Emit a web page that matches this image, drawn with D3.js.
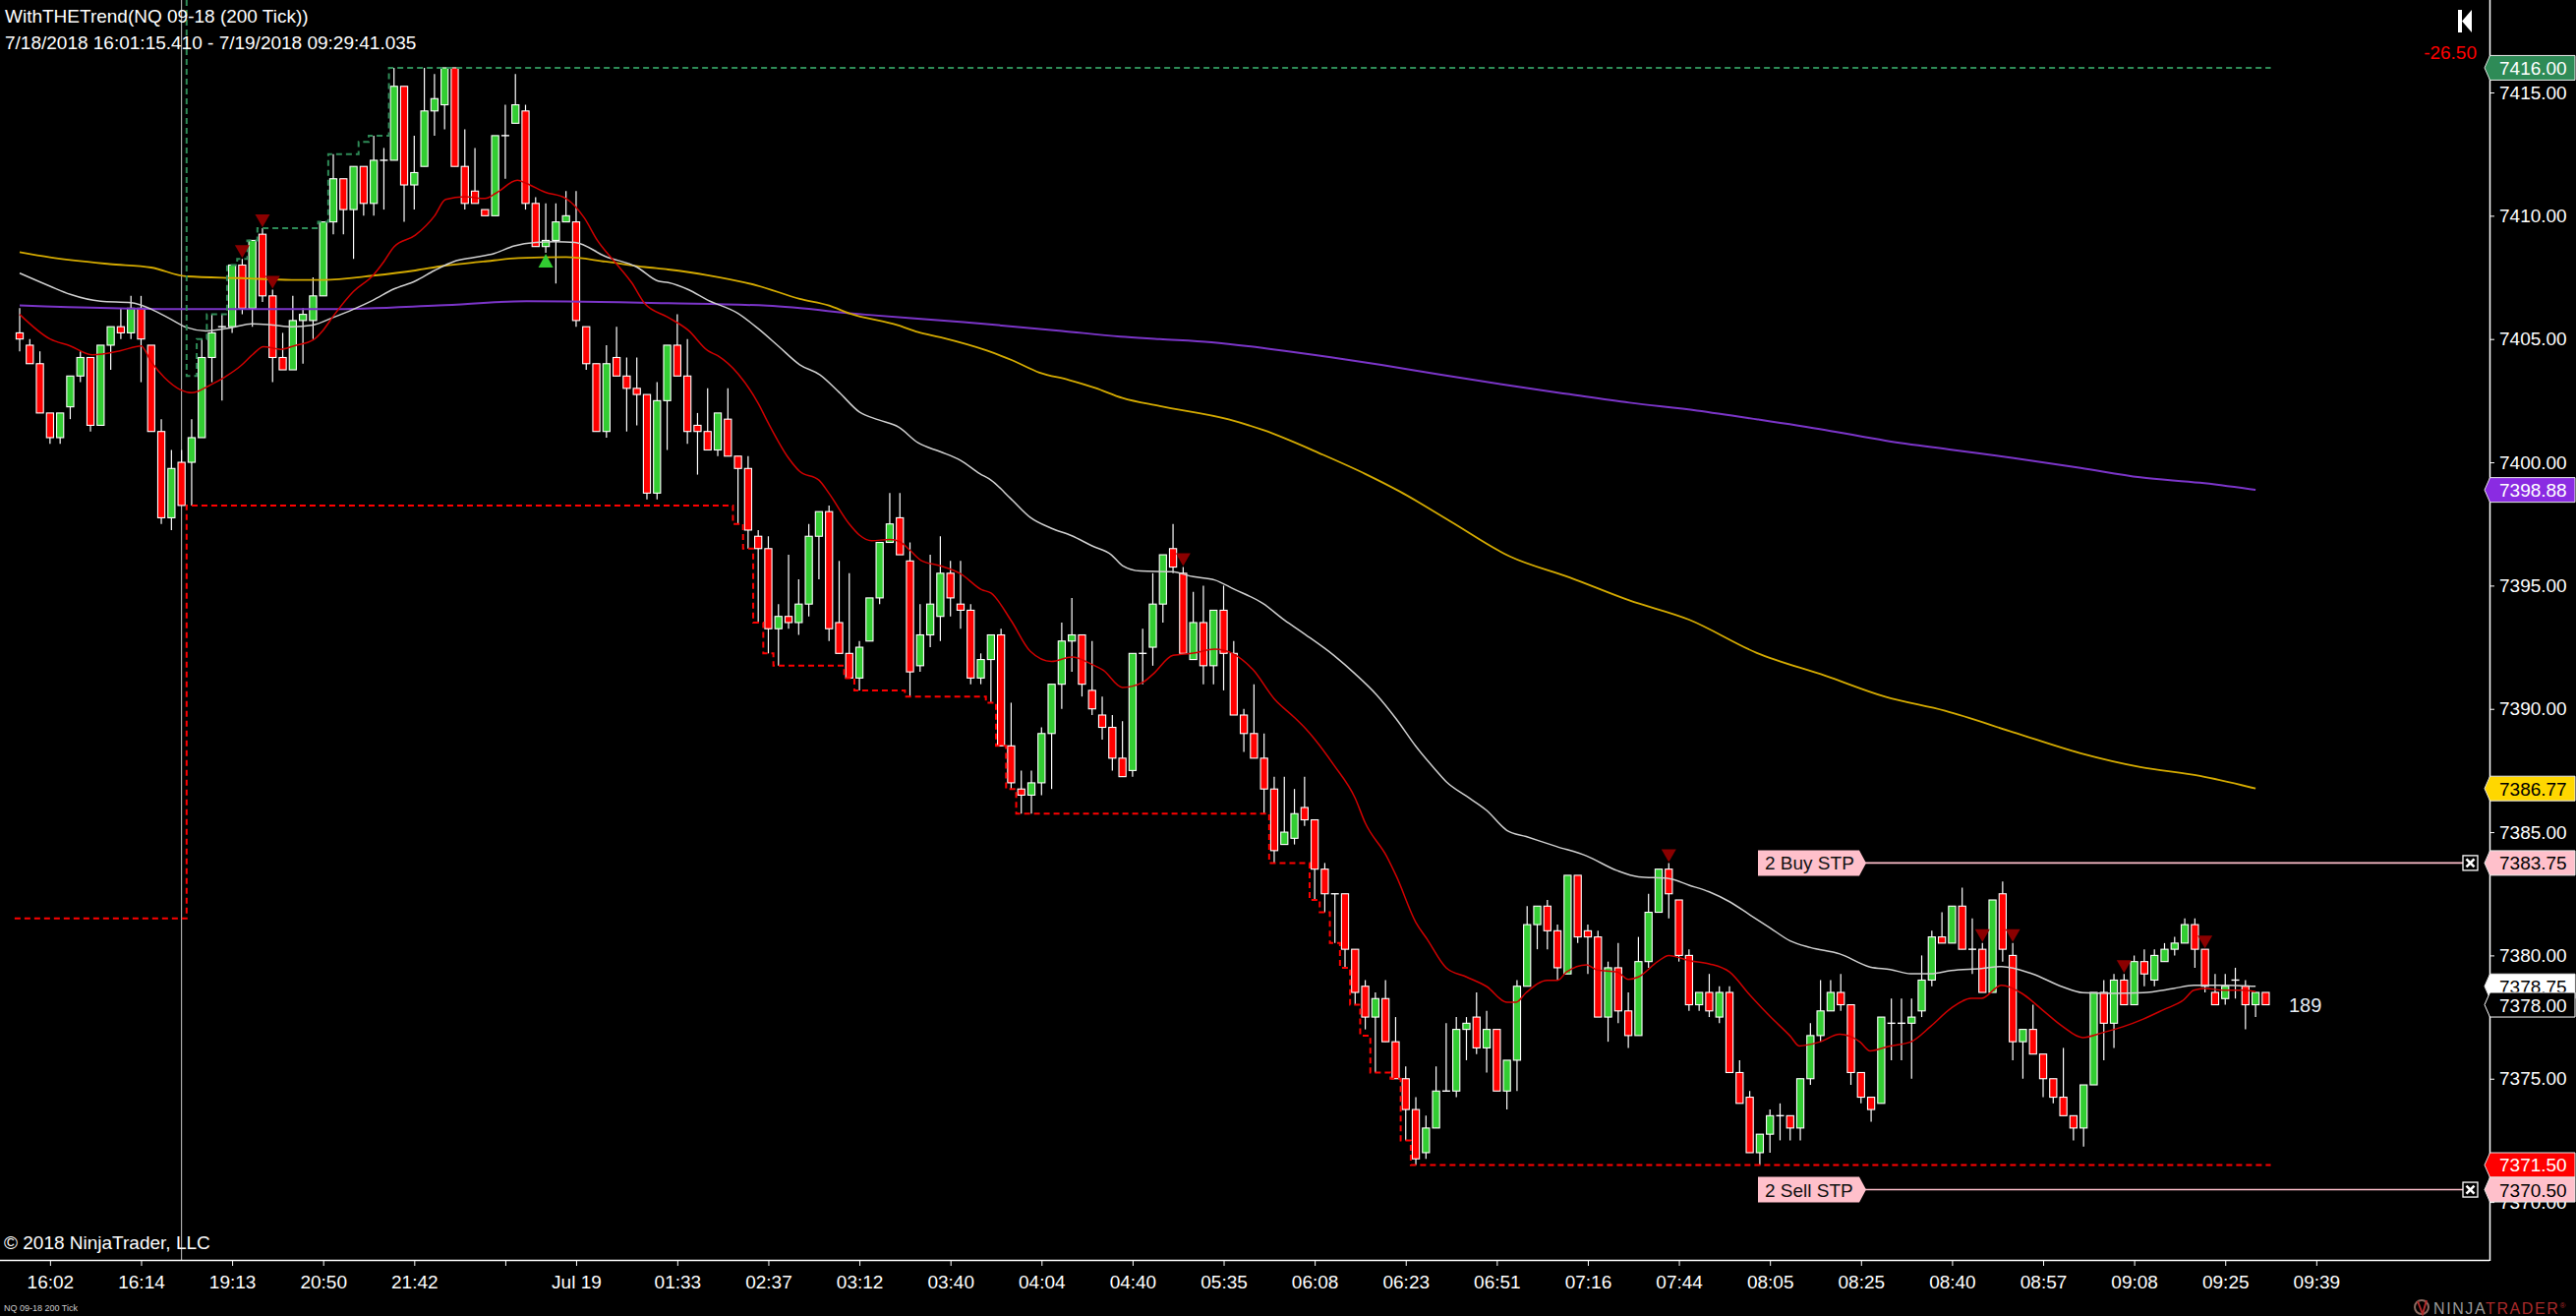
<!DOCTYPE html>
<html>
<head>
<meta charset="utf-8">
<script src="https://cdn.jsdelivr.net/npm/d3@7"></script>
<style>
body { margin: 0; background: #000; }
svg { display: block; }
</style>
</head>
<body>
<svg id="chart" width="2620" height="1338"></svg>
<script>
// ---- chart data (bar index 0..222, 200 tick bars) ----
const opens = [
7405.25,7404.75,7404.0,7402.0,7401.0,7402.25,7403.5,7404.25,7401.5,7404.75,
7405.5,7405.25,7406.25,7404.75,7401.25,7397.75,7400.0,7400.0,7401.0,7404.25,
7405.5,7405.5,7408.0,7406.25,7409.25,7406.75,7404.25,7403.75,7405.75,7405.75,
7406.75,7409.75,7411.5,7410.25,7412.0,7410.5,7412.25,7412.25,7415.25,7411.25,
7412.0,7414.25,7414.5,7416.0,7412.0,7411.0,7410.25,7410.0,7413.25,7413.75,
7414.25,7410.5,7408.75,7409.0,7409.75,7409.75,7405.5,7404.0,7401.25,7404.25,
7403.5,7403.0,7402.75,7398.75,7402.5,7404.75,7403.5,7401.5,7401.25,7400.5,
7401.75,7400.25,7399.75,7397.0,7396.5,7393.25,7393.75,7393.5,7394.25,7397.0,
7398.0,7393.5,7392.25,7391.25,7392.75,7394.5,7396.75,7397.75,7396.0,7391.75,
7393.0,7393.75,7395.5,7394.25,7394.0,7391.25,7392.0,7393.0,7388.5,7386.75,
7386.5,7387.0,7389.0,7391.0,7392.75,7393.0,7390.75,7389.75,7389.25,7388.0,
7387.5,7392.25,7392.5,7394.25,7396.5,7395.5,7392.0,7393.5,7391.75,7394.0,
7392.25,7389.75,7389.0,7388.0,7386.75,7384.5,7384.75,7386.0,7385.5,7383.5,
7382.5,7382.5,7380.25,7378.75,7377.5,7378.25,7376.5,7375.0,7373.75,7372.0,
7373.0,7374.5,7374.5,7377.0,7377.5,7376.25,7377.0,7374.5,7375.75,7378.75,
7381.25,7382.0,7381.0,7379.25,7383.25,7381.0,7380.75,7377.5,7379.5,7377.75,
7376.75,7379.75,7381.75,7383.5,7382.25,7380.0,7378.0,7378.5,7377.5,7378.5,
7375.25,7374.25,7372.0,7372.75,7373.5,7373.5,7373.0,7375.0,7376.75,7377.75,
7378.5,7378.0,7375.25,7374.25,7374.0,7377.25,7377.25,7377.25,7377.75,7379.0,
7380.75,7380.5,7382.0,7380.25,7380.25,7378.5,7382.5,7380.0,7376.5,7377.0,
7376.0,7375.0,7374.25,7373.5,7373.0,7374.75,7378.5,7377.25,7379.0,7378.0,
7379.75,7379.0,7379.75,7380.25,7380.5,7381.25,7380.25,7378.5,7378.25,7379.0,
7378.75,7378.0,7378.5
];
const highs = [
7406.25,7405.0,7404.5,7402.0,7402.0,7403.5,7404.5,7404.25,7404.75,7405.5,
7406.25,7406.75,7406.75,7404.75,7401.75,7400.5,7400.5,7401.75,7405.0,7406.0,
7406.0,7408.0,7408.25,7409.0,7409.5,7407.0,7405.25,7406.75,7406.25,7407.5,
7409.75,7412.5,7411.5,7412.0,7412.0,7413.25,7412.75,7416.0,7415.25,7413.25,
7416.0,7415.75,7416.0,7416.0,7413.5,7412.75,7410.25,7413.25,7414.5,7415.75,
7414.5,7410.75,7410.5,7410.5,7411.0,7411.0,7405.5,7404.0,7404.75,7405.5,
7404.25,7404.25,7402.75,7403.25,7404.75,7406.0,7405.0,7402.0,7403.0,7402.0,
7403.0,7400.25,7400.25,7397.25,7397.0,7394.25,7396.25,7395.25,7397.5,7398.0,
7398.25,7396.0,7395.5,7392.75,7394.5,7396.75,7398.75,7398.75,7396.75,7394.25,
7396.25,7397.0,7396.0,7396.0,7394.25,7392.25,7393.0,7393.25,7390.25,7387.5,
7387.5,7389.25,7391.0,7393.5,7394.5,7393.0,7392.75,7390.5,7389.75,7389.5,
7392.25,7393.25,7395.5,7396.25,7397.5,7395.75,7394.75,7395.0,7394.0,7395.0,
7392.75,7390.0,7391.0,7389.0,7387.25,7387.25,7386.75,7387.25,7385.5,7383.75,
7382.5,7382.5,7380.25,7379.0,7378.5,7379.0,7377.5,7375.5,7374.25,7373.5,
7375.5,7377.25,7377.5,7377.5,7378.5,7377.75,7377.0,7375.75,7379.0,7382.0,
7382.0,7382.25,7381.25,7383.25,7383.25,7381.25,7381.0,7379.75,7380.5,7378.5,
7380.75,7382.5,7383.5,7383.75,7382.25,7380.25,7378.5,7379.25,7378.75,7378.75,
7375.75,7374.5,7372.75,7373.75,7374.0,7373.5,7375.0,7377.25,7379.0,7379.0,
7379.25,7378.0,7375.25,7374.25,7377.5,7378.25,7378.25,7378.25,7380.0,7381.0,
7381.75,7382.0,7382.75,7381.5,7380.5,7382.25,7383.0,7380.5,7377.0,7378.0,
7376.0,7375.0,7376.25,7373.5,7374.75,7378.5,7379.0,7379.25,7379.25,7380.0,
7380.25,7380.25,7380.5,7380.75,7381.5,7381.5,7380.25,7379.25,7379.25,7379.5,
7379.0,7378.5,7378.5
];
const lows = [
7404.5,7404.0,7402.0,7400.75,7400.75,7401.75,7403.25,7401.25,7401.5,7403.75,
7405.0,7405.0,7403.25,7401.25,7397.5,7397.25,7398.25,7398.25,7401.0,7403.25,
7402.5,7405.25,7406.0,7405.5,7406.5,7403.25,7403.75,7403.75,7404.0,7405.0,
7406.75,7409.25,7409.25,7408.25,7410.0,7410.0,7410.25,7412.25,7409.75,7410.25,
7412.0,7413.25,7413.5,7412.0,7410.25,7410.5,7410.0,7410.0,7411.5,7413.75,
7410.25,7408.75,7408.5,7407.25,7409.75,7405.5,7403.75,7401.25,7401.0,7403.5,
7401.25,7401.5,7398.5,7398.5,7400.5,7403.5,7400.75,7399.5,7400.5,7400.25,
7400.25,7397.5,7396.5,7393.5,7392.25,7391.75,7393.25,7393.0,7393.75,7395.25,
7392.75,7392.25,7391.25,7390.75,7392.75,7394.25,7396.75,7396.25,7390.5,7391.5,
7392.5,7392.75,7393.75,7393.25,7391.0,7391.0,7390.25,7388.5,7386.75,7385.75,
7385.75,7386.5,7386.75,7390.0,7391.5,7390.5,7389.75,7388.75,7387.5,7387.25,
7387.25,7391.0,7391.75,7393.5,7395.5,7392.25,7392.0,7391.0,7391.0,7390.75,
7389.75,7388.25,7388.0,7385.75,7383.75,7384.5,7384.5,7385.25,7382.25,7381.75,
7380.5,7379.5,7378.0,7377.0,7375.25,7376.5,7375.0,7372.5,7371.5,7371.75,
7373.0,7374.5,7374.25,7375.75,7376.0,7375.25,7374.5,7373.75,7374.5,7378.75,
7380.25,7380.25,7379.0,7379.25,7380.5,7379.25,7377.5,7376.5,7377.25,7376.25,
7376.75,7379.5,7381.75,7381.5,7379.75,7377.75,7377.75,7377.5,7377.25,7375.25,
7374.0,7372.0,7371.5,7372.0,7372.5,7372.5,7372.5,7374.75,7376.5,7377.75,
7377.75,7374.75,7374.0,7373.25,7374.0,7375.75,7375.75,7375.0,7377.5,7378.75,
7380.5,7380.5,7380.25,7379.25,7378.5,7378.5,7379.75,7375.75,7375.0,7376.0,
7374.25,7374.0,7373.5,7372.5,7372.25,7374.75,7375.75,7376.25,7378.0,7378.0,
7378.75,7378.75,7379.75,7380.0,7380.5,7379.5,7378.5,7378.0,7378.0,7378.25,
7377.0,7377.5,7378.0
];
const closes = [
7405.0,7404.0,7402.0,7401.0,7402.0,7403.5,7404.25,7401.5,7404.75,7405.5,
7405.25,7406.25,7405.0,7401.25,7397.75,7399.75,7398.25,7401.0,7404.25,7405.25,
7405.5,7408.0,7406.25,7409.0,7406.75,7404.25,7403.75,7405.75,7406.0,7406.75,
7409.75,7411.5,7410.25,7412.0,7410.5,7412.25,7412.25,7415.25,7411.25,7411.75,
7414.25,7414.75,7416.0,7412.0,7410.5,7410.5,7410.0,7413.25,7413.25,7414.5,
7410.5,7408.75,7409.0,7409.75,7410.0,7405.75,7404.0,7401.25,7404.0,7403.5,
7403.0,7402.75,7398.75,7402.5,7404.75,7403.5,7401.25,7401.25,7400.5,7402.0,
7400.25,7399.75,7397.25,7396.5,7393.25,7393.75,7393.5,7394.25,7397.0,7398.0,
7393.25,7392.25,7391.25,7392.5,7394.5,7396.75,7397.5,7396.25,7391.5,7393.0,
7394.25,7395.5,7394.5,7394.0,7391.25,7392.0,7393.0,7388.5,7387.0,7386.5,
7387.0,7389.0,7391.0,7392.75,7393.0,7391.0,7390.0,7389.25,7388.0,7387.25,
7392.25,7392.25,7394.25,7396.25,7395.75,7392.25,7393.5,7391.75,7394.0,7392.25,
7389.75,7389.0,7388.0,7386.75,7384.25,7385.0,7385.75,7385.5,7383.5,7382.5,
7382.5,7380.25,7378.5,7377.5,7378.25,7376.5,7375.0,7373.75,7371.75,7373.0,
7374.5,7374.5,7377.0,7377.25,7376.25,7377.0,7374.5,7375.75,7378.75,7381.25,
7382.0,7381.0,7379.5,7383.25,7380.75,7380.75,7377.5,7379.5,7377.75,7376.75,
7379.75,7381.75,7383.5,7382.5,7380.0,7378.0,7378.5,7377.75,7378.5,7375.25,
7374.0,7372.0,7372.75,7373.5,7373.5,7373.0,7375.0,7376.75,7377.75,7378.5,
7378.0,7375.25,7374.25,7373.75,7377.5,7377.25,7377.25,7377.5,7379.0,7380.75,
7380.5,7382.0,7380.25,7380.25,7378.5,7382.25,7380.25,7376.5,7377.0,7376.0,
7375.0,7374.25,7373.5,7373.0,7374.75,7378.5,7377.25,7379.0,7378.0,7379.75,
7379.25,7380.0,7380.25,7380.5,7381.25,7380.25,7378.75,7378.0,7378.75,7379.0,
7378.0,7378.5,7378.0
];

// indicator plots, [bar, value] points
const fastLine = [[0,7406.0],[3,7405.0],[5,7404.72],[7.2,7404.36],[10,7404.53],[12,7404.72],[13,7404.08],[14.3,7403.44],[15.9,7402.94],[17,7402.82],[18.9,7403.15],[20.2,7403.44],[21.9,7403.93],[23,7404.36],[24.1,7404.69],[25.8,7404.58],[27.1,7404.72],[29,7404.96],[30,7405.36],[31,7405.93],[33,7406.93],[34.9,7407.57],[36,7408.14],[37,7408.74],[39.1,7409.21],[41,7409.99],[42.1,7410.66],[44,7410.77],[46,7410.7],[47.1,7410.92],[49.2,7411.44],[50.1,7411.31],[51.9,7410.96],[54,7410.7],[55.8,7409.92],[57.1,7409.0],[58.8,7408.14],[60.5,7407.28],[61.8,7406.43],[64,7405.9],[66.1,7405.35],[68,7404.53],[69,7404.32],[71,7403.59],[73,7402.39],[74,7401.59],[76,7400.17],[77.1,7399.63],[79,7399.28],[80,7398.74],[82,7397.5],[83,7397.05],[84.2,7396.82],[86,7396.87],[87,7396.78],[88,7396.43],[89.1,7396.02],[91,7395.8],[93,7395.48],[95.1,7394.83],[96,7394.7],[98,7393.58],[99.9,7392.33],[102,7391.92],[104,7392.1],[106,7391.8],[107.1,7391.57],[109,7390.87],[111,7391.07],[112,7391.4],[114,7392.17],[116,7392.26],[118.1,7392.42],[120,7392.22],[121.9,7391.59],[124,7390.41],[126,7389.65],[127.1,7389.2],[129.9,7387.72],[132,7386.38],[133,7385.37],[135.1,7384.03],[136.1,7383.19],[138,7381.34],[139.1,7380.67],[141,7379.5],[143,7379.13],[145,7378.74],[147,7378.1],[147.9,7378.1],[148.9,7378.49],[151,7378.99],[152,7378.99],[152.9,7379.33],[154.9,7379.62],[155.9,7379.41],[157.9,7379.33],[159,7379.03],[160,7379.13],[161.9,7379.75],[163,7380.0],[165,7379.79],[167,7379.66],[169,7379.33],[171,7378.4],[173,7377.53],[175,7376.73],[175.9,7376.33],[177.9,7376.49],[179.9,7376.8],[181.9,7376.49],[182.9,7376.13],[184.9,7376.33],[186.9,7376.49],[188.9,7377.13],[190.9,7377.86],[192.9,7378.26],[193.9,7378.26],[195.9,7378.79],[197.9,7378.46],[199.9,7377.8],[201.9,7377.13],[203.9,7376.67],[205.9,7376.87],[207.9,7377.11],[209.9,7377.42],[211.9,7377.8],[213.9,7378.2],[214.9,7378.59],[216,7378.66],[217.9,7378.59],[219.9,7378.59],[221,7378.53]];
const midLine = [[0,7407.67],[3,7407.14],[5,7406.81],[8,7406.53],[11,7406.47],[13,7406.21],[15,7405.79],[16.5,7405.47],[18.4,7405.33],[21,7405.47],[23,7405.62],[25,7405.57],[26.9,7405.5],[29,7405.57],[30.9,7405.86],[33,7406.21],[34.9,7406.57],[37,7407.03],[39.1,7407.35],[41,7407.78],[42.9,7408.14],[44.9,7408.31],[46.9,7408.47],[48.9,7408.78],[51,7408.92],[52.9,7408.95],[54.9,7408.92],[57.9,7408.35],[61,7407.92],[63.1,7407.35],[64.1,7407.29],[66.1,7407.0],[68,7406.58],[71,7406.04],[73,7405.42],[75,7404.71],[77.1,7403.96],[79.1,7403.55],[81,7402.84],[83,7402.04],[84.9,7401.72],[86.9,7401.42],[88.8,7400.79],[91,7400.43],[93,7400.08],[94.9,7399.54],[96,7399.28],[98,7398.51],[99.9,7397.76],[102,7397.32],[104,7397.02],[106,7396.61],[107.9,7396.25],[109,7395.81],[110.8,7395.59],[113.9,7395.56],[116,7395.36],[118.1,7395.23],[120,7394.86],[122.9,7394.27],[125,7393.6],[127.1,7393.01],[129.9,7392.17],[132,7391.42],[134.1,7390.58],[136.1,7389.57],[138,7388.48],[139.9,7387.55],[141,7387.05],[143,7386.46],[145,7385.88],[147,7385.07],[148.9,7384.82],[151.9,7384.42],[154.9,7384.03],[157.9,7383.44],[160,7383.19],[163,7383.12],[165,7382.85],[167,7382.58],[169,7382.18],[171,7381.65],[173,7381.12],[175,7380.59],[177,7380.32],[179.9,7380.06],[182.9,7379.53],[184.9,7379.43],[186.9,7379.26],[188.9,7379.26],[190.9,7379.39],[193.9,7379.47],[195.9,7379.55],[198.9,7379.26],[201.9,7378.73],[203.9,7378.49],[206.9,7378.46],[209.9,7378.49],[212.9,7378.66],[214.9,7378.79],[217.9,7378.79],[221,7378.75]];
const goldLine = [[0,7408.52],[3,7408.31],[8.9,7408.04],[13,7407.9],[16.5,7407.54],[21.9,7407.47],[26.9,7407.4],[30,7407.4],[34.9,7407.57],[39.1,7407.78],[41.9,7407.97],[45.8,7408.14],[49.3,7408.28],[54,7408.32],[57.9,7408.14],[61.8,7407.92],[64.1,7407.82],[68,7407.59],[72.9,7407.17],[77.1,7406.63],[80,7406.36],[82,7406.04],[86.8,7405.56],[88.8,7405.28],[91,7405.07],[95.6,7404.53],[98.1,7404.14],[100.8,7403.64],[103.7,7403.34],[106.3,7403.02],[109,7402.61],[112.7,7402.28],[119.5,7401.74],[122.9,7401.31],[128.8,7400.31],[133,7399.53],[136.4,7398.82],[141.4,7397.61],[147.3,7396.18],[153.2,7395.33],[159.1,7394.4],[165,7393.62],[171.7,7392.27],[178.5,7391.34],[184.4,7390.49],[190.3,7389.92],[197,7389.06],[203.7,7388.2],[209.6,7387.64],[215.5,7387.28],[221,7386.77]];
const purpleLine = [[0,7406.36],[15.4,7406.21],[30.6,7406.21],[41.4,7406.36],[50.1,7406.53],[64.1,7406.45],[73.9,7406.35],[83.6,7405.99],[93.3,7405.69],[103,7405.33],[108.8,7405.1],[112.7,7405.0],[117.8,7404.87],[123.7,7404.59],[129.6,7404.26],[134.6,7403.95],[140.5,7403.55],[146.5,7403.16],[153.2,7402.76],[159.1,7402.42],[165.8,7402.1],[171.8,7401.74],[178.5,7401.31],[184.4,7400.88],[191.1,7400.5],[197.1,7400.17],[203.7,7399.77],[209.6,7399.39],[215.5,7399.17],[221,7398.88]];

// trailing high / low steps, [bar boundary, level]
const highSteps = [[16.5,7418.75],[16.5,7403.5],[17.5,7405.0],[18.5,7406.0],[20.5,7408.0],[21.5,7408.25],[22.5,7409.0],[23.5,7409.5],[29.5,7409.75],[30.5,7412.5],[33.5,7413.0],[34.5,7413.25],[36.5,7416.0],[222.5,7416.0]];
const lowSteps = [[-0.5,7381.5],[16.5,7398.25],[70.5,7397.5],[71.5,7396.5],[72.5,7393.5],[73.5,7392.25],[74.5,7391.75],[81.5,7391.25],[82.5,7390.75],[87.5,7390.5],[95.5,7390.25],[96.5,7388.5],[97.5,7386.75],[98.5,7385.75],[123.5,7383.75],[127.5,7382.25],[128.5,7381.75],[129.5,7380.5],[130.5,7379.5],[131.5,7378.0],[132.5,7376.75],[133.5,7375.25],[135.5,7375.0],[136.5,7372.5],[137.5,7371.5],[222.5,7371.5]];

const sellSignals = [22, 24, 25, 115, 163, 194, 197, 208, 216];
const buySignals = [52];
const sessionBar = 16;

const priceTicks = [7370, 7375, 7380, 7385, 7390, 7395, 7400, 7405, 7410, 7415];
const timeTickBars = [3,12,21,30,39,48,55,65,74,83,92,101,110,119,128,137,146,155,164,173,182,191,200,209,218,227];
const timeLabels = ['16:02','16:14','19:13','20:50','21:42','','Jul 19','01:33','02:37','03:12','03:40','04:04','04:40','05:35','06:08','06:23','06:51','07:16','07:44','08:05','08:25','08:40','08:57','09:08','09:25','09:39'];

const markerPrices = [7416.00, 7398.88, 7386.77, 7383.75, 7378.75, 7378.00, 7371.50, 7370.50];
const orderPrices = [7383.75, 7370.50];
const orderNames = ['2 Buy STP', '2 Sell STP'];

// ---- drawing ----
const FONT = '"Liberation Sans", Arial, sans-serif';
const PLOT_RIGHT = 2532;
const PLOT_BOTTOM = 1281;

const svg = d3.select('#chart').attr('font-family', FONT);

const x = d3.scaleLinear().domain([0, 222]).range([20, 2304.4]);
const y = d3.scaleLinear().domain([7367.65, 7418.75]).range([PLOT_BOTTOM, 0]);

svg.append('rect').attr('width', 2620).attr('height', 1338).attr('fill', '#000');

svg.append('defs').append('clipPath')
    .attr('id', 'plot-clip')
    .append('rect')
    .attr('x', 0).attr('y', 0)
    .attr('width', PLOT_RIGHT).attr('height', PLOT_BOTTOM);

const plot = svg.append('g').attr('clip-path', 'url(#plot-clip)');

// session break line
plot.append('line')
    .attr('x1', x(sessionBar)).attr('x2', x(sessionBar))
    .attr('y1', 0).attr('y2', PLOT_BOTTOM)
    .attr('stroke', '#c8c8c8').attr('stroke-width', 1);

// candles
const bars = plot.append('g')
    .selectAll('g')
    .data(d3.range(opens.length))
    .join('g');

bars.append('line')
    .attr('x1', i => x(i)).attr('x2', i => x(i))
    .attr('y1', i => y(highs[i])).attr('y2', i => y(lows[i]))
    .attr('stroke', '#fff').attr('stroke-width', 1.2);

bars.filter(i => opens[i] !== closes[i])
    .append('rect')
    .attr('x', i => x(i) - 3.6)
    .attr('width', 7.2)
    .attr('y', i => y(Math.max(opens[i], closes[i])))
    .attr('height', i => Math.abs(y(opens[i]) - y(closes[i])))
    .attr('fill', i => closes[i] > opens[i] ? '#32CD32' : '#FF0000')
    .attr('stroke', '#fff').attr('stroke-width', 1.1);

bars.filter(i => opens[i] === closes[i])
    .append('line')
    .attr('x1', i => x(i) - 4).attr('x2', i => x(i) + 4)
    .attr('y1', i => y(opens[i])).attr('y2', i => y(closes[i]))
    .attr('stroke', '#fff').attr('stroke-width', 1.4);

// indicator plots
const smooth = d3.line().x(d => x(d[0])).y(d => y(d[1])).curve(d3.curveMonotoneX);
plot.append('path').attr('d', smooth(purpleLine)).attr('fill', 'none').attr('stroke', '#7B35C8').attr('stroke-width', 2);
plot.append('path').attr('d', smooth(goldLine)).attr('fill', 'none').attr('stroke', '#D4AA00').attr('stroke-width', 1.8);
plot.append('path').attr('d', smooth(midLine)).attr('fill', 'none').attr('stroke', '#D0D0D0').attr('stroke-width', 1.5);
plot.append('path').attr('d', smooth(fastLine)).attr('fill', 'none').attr('stroke', '#D00000').attr('stroke-width', 1.5);

// trailing steps
const step = d3.line().x(d => x(d[0])).y(d => y(d[1])).curve(d3.curveStepAfter);
plot.append('path').attr('d', step(highSteps))
    .attr('fill', 'none').attr('stroke', '#2E8B57').attr('stroke-width', 2)
    .attr('stroke-dasharray', '6,4');
plot.append('path').attr('d', step(lowSteps))
    .attr('fill', 'none').attr('stroke', '#FF0000').attr('stroke-width', 2)
    .attr('stroke-dasharray', '6,4');

// signal arrows
plot.append('g').selectAll('path')
    .data(sellSignals)
    .join('path')
    .attr('d', i => {
        const cx = x(i), tip = y(highs[i]) - 1;
        return `M${cx - 7.5},${tip - 13}L${cx + 7.5},${tip - 13}L${cx},${tip}Z`;
    })
    .attr('fill', '#8B0000');
plot.append('g').selectAll('path')
    .data(buySignals)
    .join('path')
    .attr('d', i => {
        const cx = x(i), tip = y(lows[i]) + 1;
        return `M${cx - 7.5},${tip + 14}L${cx + 7.5},${tip + 14}L${cx},${tip}Z`;
    })
    .attr('fill', '#32CD32');

// working orders
const orders = svg.append('g')
    .selectAll('g')
    .data(orderPrices)
    .join('g')
    .attr('transform', d => `translate(0,${y(d)})`);

orders.append('line')
    .attr('x1', 1897).attr('x2', 2505)
    .attr('y1', 0).attr('y2', 0)
    .attr('stroke', '#FFC0CB').attr('stroke-width', 1.6);
orders.append('path')
    .attr('d', 'M1788,-13L1891,-13L1898,0L1891,13L1788,13Z')
    .attr('fill', '#FFC0CB');
orders.append('text')
    .attr('x', 1795).attr('y', 7)
    .attr('font-size', 19).attr('fill', '#111')
    .text((d, i) => orderNames[i]);
orders.append('rect')
    .attr('x', 2505).attr('y', -7.5)
    .attr('width', 15).attr('height', 15)
    .attr('fill', '#000').attr('stroke', '#fff').attr('stroke-width', 1.3);
orders.append('path')
    .attr('d', 'M2508.5,-4L2516.5,4M2516.5,-4L2508.5,4')
    .attr('stroke', '#fff').attr('stroke-width', 2.6);

// bars-remaining counter
svg.append('text')
    .attr('x', 2328).attr('y', y(closes[closes.length - 1]) + 7)
    .attr('font-size', 20).attr('fill', '#e6ecf5')
    .text('189');

// axes
const yAxis = d3.axisRight(y)
    .tickValues(priceTicks)
    .tickSize(5)
    .tickPadding(5)
    .tickFormat(d => d.toFixed(2));
const gy = svg.append('g')
    .attr('transform', `translate(${PLOT_RIGHT},0)`)
    .call(yAxis);
gy.select('.domain').remove();
gy.attr('font-family', FONT).attr('font-size', 19);
gy.selectAll('line').attr('stroke', '#fff');
gy.selectAll('text').attr('fill', '#fff');

const xAxis = d3.axisBottom(x)
    .tickValues(timeTickBars)
    .tickSize(6)
    .tickPadding(10)
    .tickFormat((d, i) => timeLabels[i]);
const gx = svg.append('g')
    .attr('transform', `translate(0,${PLOT_BOTTOM})`)
    .call(xAxis);
gx.select('.domain').remove();
gx.attr('font-family', FONT).attr('font-size', 19);
gx.selectAll('line').attr('stroke', '#fff');
gx.selectAll('text').attr('fill', '#fff');

svg.append('line')
    .attr('x1', 0).attr('x2', PLOT_RIGHT)
    .attr('y1', PLOT_BOTTOM + 0.5).attr('y2', PLOT_BOTTOM + 0.5)
    .attr('stroke', '#fff').attr('stroke-width', 1.5);
svg.append('line')
    .attr('x1', PLOT_RIGHT + 0.5).attr('x2', PLOT_RIGHT + 0.5)
    .attr('y1', 0).attr('y2', PLOT_BOTTOM + 1)
    .attr('stroke', '#fff').attr('stroke-width', 1.5);

// price markers on the axis
const markerFill = ['#2E8B57', '#8A2BE2', '#FFD700', '#FFC0CB', '#FFFFFF', '#000000', '#FF0000', '#FFC0CB'];
const markerInk = ['#fff', '#fff', '#000', '#000', '#000', '#fff', '#fff', '#000'];
const markers = svg.append('g')
    .selectAll('g')
    .data(markerPrices)
    .join('g')
    .attr('transform', d => `translate(0,${y(d)})`);
markers.append('path')
    .attr('d', 'M2527,0L2532.5,-12.5L2619,-12.5L2619,12.5L2532.5,12.5Z')
    .attr('fill', (d, i) => markerFill[i])
    .attr('stroke', (d, i) => markerFill[i] === '#000000' ? '#fff' : '#e8e8e8')
    .attr('stroke-width', 1);
markers.append('text')
    .attr('x', 2542).attr('y', 7)
    .attr('font-size', 19)
    .attr('fill', (d, i) => markerInk[i])
    .text(d => d.toFixed(2));

// header
svg.append('text')
    .attr('x', 5).attr('y', 23)
    .attr('font-size', 19).attr('fill', '#fff')
    .text('WithTHETrend(NQ 09-18 (200 Tick))');
svg.append('text')
    .attr('x', 5).attr('y', 50)
    .attr('font-size', 19).attr('fill', '#fff')
    .text('7/18/2018 16:01:15.410 - 7/19/2018 09:29:41.035');

// top right: scroll-to-start icon and net change
svg.append('rect').attr('x', 2500).attr('y', 10).attr('width', 4).attr('height', 23).attr('fill', '#fff');
svg.append('path').attr('d', 'M2514,10L2514,33L2504,21.5Z').attr('fill', '#fff');
svg.append('text')
    .attr('x', 2519).attr('y', 60)
    .attr('text-anchor', 'end')
    .attr('font-size', 19).attr('fill', '#FF0000')
    .text('-26.50');

// footer
svg.append('text')
    .attr('x', 4).attr('y', 1270)
    .attr('font-size', 19).attr('fill', '#fff')
    .text('© 2018 NinjaTrader, LLC');
svg.append('text')
    .attr('x', 4).attr('y', 1333)
    .attr('font-size', 9).attr('fill', '#ccc')
    .text('NQ 09-18 200 Tick');

const logo = svg.append('g');
logo.append('circle').attr('cx', 2463).attr('cy', 1329).attr('r', 7)
    .attr('fill', 'none').attr('stroke', '#8a6a60').attr('stroke-width', 2);
logo.append('path').attr('d', 'M2459,1323L2464,1336L2468,1322')
    .attr('fill', 'none').attr('stroke', '#b02a2a').attr('stroke-width', 2);
const logoText = logo.append('text')
    .attr('x', 2475).attr('y', 1336)
    .attr('font-size', 16).attr('letter-spacing', 1.6);
logoText.append('tspan').attr('fill', '#9a9a9a').text('NINJA');
logoText.append('tspan').attr('fill', '#a82a2a').text('TRADER');
logoText.append('tspan').attr('fill', '#a82a2a').attr('font-size', 8).attr('dy', -6).text('®');
</script>
</body>
</html>
